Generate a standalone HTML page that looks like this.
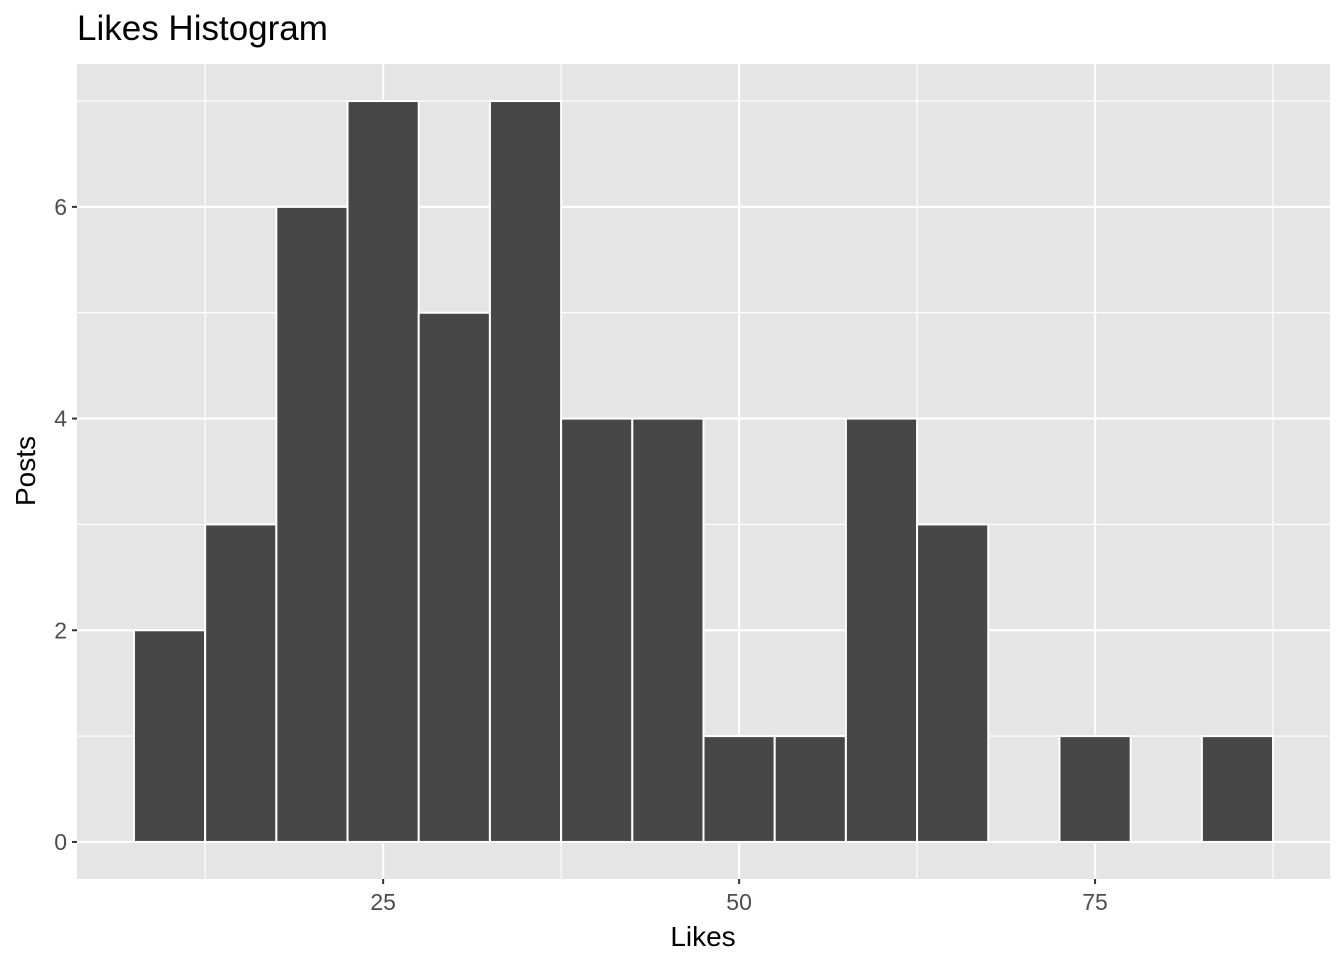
<!DOCTYPE html>
<html><head><meta charset="utf-8"><style>
body{margin:0;background:#fff;}
svg text{font-family:"Liberation Sans",Arial,sans-serif;}
</style></head><body>
<svg width="1344" height="960" xmlns="http://www.w3.org/2000/svg">
<text x="77" y="40" font-size="35" fill="#000">Likes Histogram</text>
<rect x="77" y="64" width="1253" height="815" fill="#e5e5e5"/>
<g id="grid"></g>
<g id="bars"></g>
<g id="axes"></g>
<text x="703" y="946" font-size="28" text-anchor="middle" fill="#000">Likes</text>
<text transform="translate(35,471) rotate(-90)" font-size="28" text-anchor="middle" fill="#000">Posts</text>
</svg>
<script>
const binStarts=[7.5,12.5,17.5,22.5,27.5,32.5,37.5,42.5,47.5,52.5,57.5,62.5,67.5,72.5,77.5,82.5];
const counts=[2,3,6,7,5,7,4,4,1,1,4,3,0,1,0,1];
const binWidth=5;
const xTicks=[25,50,75];
const xMinor=[12.5,37.5,62.5,87.5];
const yTicks=[0,2,4,6];
const yMinor=[1,3,5,7];
const X0=77,X1=1330,Y0=879,Y1=64;
const xmin=3.5,xmax=91.5,ymin=-0.35,ymax=7.35;
const sx=v=>X0+(v-xmin)/(xmax-xmin)*(X1-X0);
const sy=v=>Y0-(v-ymin)/(ymax-ymin)*(Y0-Y1);
const NS="http://www.w3.org/2000/svg";
function mk(t,a,p){const e=document.createElementNS(NS,t);for(const k in a)e.setAttribute(k,a[k]);p.appendChild(e);return e;}
const grid=document.getElementById('grid'),bars=document.getElementById('bars'),axes=document.getElementById('axes');
xMinor.forEach(v=>{const l=mk('line',{x1:sx(v),x2:sx(v),y1:Y1,y2:Y0,stroke:'#fff','stroke-width':1.1},grid);

});
yMinor.forEach(v=>{const l=mk('line',{x1:X0,x2:X1,y1:sy(v),y2:sy(v),stroke:'#fff','stroke-width':1.1},grid);

});
xTicks.forEach(v=>{const l=mk('line',{x1:sx(v),x2:sx(v),y1:Y1,y2:Y0,stroke:'#fff','stroke-width':2.2},grid);


const t=mk('line',{x1:sx(v),x2:sx(v),y1:Y0,y2:Y0+5,stroke:'#333','stroke-width':2},axes);


const tx=mk('text',{x:sx(v),y:Y0+31,'font-size':23,'text-anchor':'middle',fill:'#4d4d4d'},axes);tx.textContent=v;

});
yTicks.forEach(v=>{const l=mk('line',{x1:X0,x2:X1,y1:sy(v),y2:sy(v),stroke:'#fff','stroke-width':2.2},grid);


const t=mk('line',{x1:X0-5,x2:X0,y1:sy(v),y2:sy(v),stroke:'#333','stroke-width':2},axes);


const tx=mk('text',{x:X0-10,y:sy(v)+8,'font-size':23,'text-anchor':'end',fill:'#4d4d4d'},axes);tx.textContent=v;

});
binStarts.forEach((b,i)=>{const c=counts[i];if(c<=0)return;
const r=mk('rect',{x:sx(b),y:sy(c),width:sx(b+binWidth)-sx(b),height:sy(0)-sy(c),fill:'#474747',stroke:'#fff','stroke-width':2},bars);

});
</script>
</body></html>
